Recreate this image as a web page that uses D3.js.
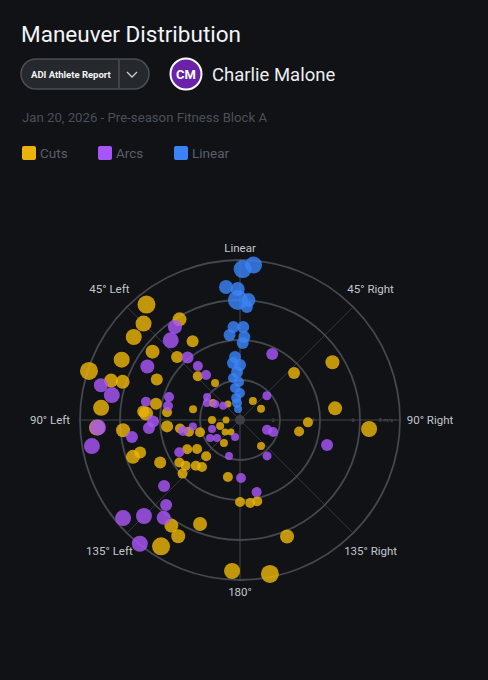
<!DOCTYPE html>
<html>
<head>
<meta charset="utf-8">
<script src="https://cdn.jsdelivr.net/npm/d3@7"></script>
<style>
  html, body { margin: 0; padding: 0; background: #101216; }
  svg { display: block; font-family: Roboto, "Noto Sans", sans-serif; }
</style>
</head>
<body>
<svg id="chart" width="488" height="680"></svg>
<script>
// Maneuver data: [direction in degrees (negative = left), speed m/s, load]
const categories = ["Cuts", "Arcs", "Linear"];
const cuts = [
	[-39, 7.43, 6], [-45, 6.82, 5], [-52, 6.74, 5], [-31, 5.87, 4], [-31, 4.6, 3],
	[-52, 5.55, 4], [-63, 6.64, 5], [-45, 4.45, 3], [-72, 7.94, 6], [-73, 6.74, 4],
	[-72, 6.17, 4], [-64, 4.63, 3], [-44, 3.04, 2], [-34, 2.23, 1], [-85, 6.97, 5],
	[-79, 4.28, 3], [-86, 4.71, 4], [-84, 3.67, 2], [-77, 2.41, 1], [-58, 1.6, 1],
	[-37, 1.0, 0.5], [34, 1.15, 1], [62, 1.19, 1], [92, 3.4, 2], [101, 3.01, 2],
	[58, 5.45, 4], [49, 3.58, 3], [83, 4.79, 4], [94, 6.47, 5], [-90, 1.4, 1],
	[-107, 1.04, 1], [-90, 0.7, 0.5], [-129, 0.96, 0.5], [-143, 0.75, 0.5], [-145, 1.4, 1],
	[141, 1.67, 1], [-95, 3.66, 3], [-95, 5.87, 4], [-93, 7.16, 5], [-109, 5.66, 4],
	[-108, 5.25, 3], [-118, 4.52, 3], [-98, 3.03, 2], [-103, 2.62, 2], [-107, 2.09, 2],
	[-119, 3.02, 2], [-124, 2.59, 2], [-137, 2.48, 2], [-125, 3.7, 2], [-130, 3.55, 2],
	[-136, 3.18, 2], [-141, 3.02, 2], [-133, 3.93, 2], [-168, 2.91, 2], [180, 4.1, 2],
	[173, 4.18, 2], [168, 4.15, 2], [-159, 5.57, 4], [-147, 6.3, 4], [-152, 6.58, 4],
	[-148, 7.45, 6], [158, 6.28, 4], [-177, 7.56, 5], [169, 7.84, 6], [-85, 4.86, 3]
];
const arcs = [
	[-35, 5.67, 4], [-41, 5.28, 5], [-40, 4.08, 3], [-60, 5.35, 4], [-38, 3.42, 2],
	[-37, 2.82, 2], [-76, 7.17, 4], [-79, 6.53, 5], [-79, 4.79, 2], [-72, 3.73, 2],
	[-79, 3.67, 2], [-55, 2.01, 1], [-63, 1.86, 1], [-57, 1.48, 1], [-50, 1.1, 1],
	[-91, 4.35, 3], [-95, 4.57, 3], [-93, 7.11, 5], [-100, 7.52, 5], [-99, 5.47, 3],
	[-98, 2.38, 1], [-101, 2.9, 2], [-108, 1.47, 1], [-128, 1.46, 1], [-164, 0.89, 1],
	[-118, 3.44, 2], [-163, 1.88, 1], [179, 2.9, 2], [167, 3.7, 2], [143, 2.25, 1.5],
	[110, 1.44, 2], [110, 1.76, 2], [106, 4.53, 3], [48, 1.81, 1.5], [26, 3.67, 3],
	[-131, 5.03, 3], [-139, 5.63, 3], [-130, 7.63, 5], [-135, 6.79, 5], [-142, 6.2, 4],
	[-141, 7.96, 5], [-121, 1.75, 1]
];
const linear = [
	[1, 7.55, 6], [5, 7.78, 5.5], [-6, 6.69, 4], [-1, 6.55, 4], [-1, 6.0, 7],
	[4, 6.01, 4], [3.5, 5.66, 3], [-4, 4.66, 3], [2, 4.65, 3], [-7, 4.28, 3],
	[3, 4.16, 3], [2, 3.85, 3], [-4.5, 3.16, 3], [-7, 2.87, 3], [0, 2.75, 3],
	[-3.5, 2.4, 3], [-9.5, 2.13, 2], [-1.5, 1.9, 2], [-9, 1.62, 2], [0, 1.35, 2],
	[-10, 1.12, 2], [-10, 0.86, 2], [-10, 0.56, 1]
];
const seriesColors = ["#eab308", "#a855f7", "#3b82f6"];
const directionAngles = [0, 45, 90, 135, 180, -135, -90, -45];
const directionLabels = ["Linear", "45° Right", "90° Right", "135° Right", "180°", "135° Left", "90° Left", "45° Left"];
const speedTicks = [2, 4, 6, 8];
const speedTickLabels = ["2", "4", "6", "8 m/s"];

const svg = d3.select("#chart");
svg.append("rect").attr("width", 488).attr("height", 680).attr("fill", "#101216");

// Header
svg.append("text")
	.attr("x", 21).attr("y", 42)
	.attr("fill", "#f3f4f6")
	.attr("font-size", 22.5)
	.text("Maneuver Distribution");

const pill = svg.append("g");
pill.append("rect")
	.attr("x", 21).attr("y", 59).attr("width", 128).attr("height", 30)
	.attr("rx", 15)
	.attr("fill", "#25282d").attr("stroke", "#4a4e55").attr("stroke-width", 1.5);
pill.append("line")
	.attr("x1", 119).attr("x2", 119).attr("y1", 60).attr("y2", 88)
	.attr("stroke", "#4a4e55").attr("stroke-width", 1.5);
pill.append("text")
	.attr("x", 31).attr("y", 78)
	.attr("fill", "#f3f4f6").attr("font-size", 9.5).attr("font-weight", 700)
	.text("ADI Athlete Report");
pill.append("path")
	.attr("d", "M127,72 L132,77 L137,72")
	.attr("fill", "none").attr("stroke", "#c9ccd1").attr("stroke-width", 1.3);

svg.append("circle")
	.attr("cx", 186).attr("cy", 74).attr("r", 15.5)
	.attr("fill", "#6b21a8").attr("stroke", "#ffffff").attr("stroke-width", 2);
svg.append("text")
	.attr("x", 186).attr("y", 79)
	.attr("text-anchor", "middle")
	.attr("fill", "#ffffff").attr("font-size", 13).attr("font-weight", 700)
	.text("CM");
svg.append("text")
	.attr("x", 212).attr("y", 81)
	.attr("fill", "#eceef1").attr("font-size", 18.5)
	.text("Charlie Malone");

svg.append("text")
	.attr("x", 22).attr("y", 122)
	.attr("fill", "#4b5058").attr("font-size", 13.2)
	.text("Jan 20, 2026 - Pre-season Fitness Block A");

// Legend
const legend = svg.append("g")
	.selectAll("g")
	.data(categories)
	.join("g")
	.attr("transform", (d, i) => `translate(${22 + i * 76},146)`);
legend.append("rect")
	.attr("width", 14).attr("height", 14).attr("rx", 2)
	.attr("fill", (d, i) => seriesColors[i]);
legend.append("text")
	.attr("x", 18).attr("y", 12)
	.attr("fill", "#5a5f68").attr("font-size", 13.5)
	.text((d) => d);

// Polar chart
const cx = 240, cy = 420, outer = 160;
const r = d3.scaleLinear().domain([0, 8]).range([0, outer]);
const size = d3.scaleLinear().domain([0, 8]).range([3, 11]);
const color = d3.scaleOrdinal().domain(categories).range(seriesColors);
const rad = (deg) => (deg * Math.PI) / 180;

const g = svg.append("g").attr("transform", `translate(${cx},${cy})`);

// spokes
g.selectAll(".spoke")
	.data(directionAngles)
	.join("line")
	.attr("class", "spoke")
	.attr("x1", 0).attr("y1", 0)
	.attr("x2", (d) => d3.pointRadial(rad(d), outer)[0])
	.attr("y2", (d) => d3.pointRadial(rad(d), outer)[1])
	.attr("stroke", (d) => (d % 90 === 0 ? "#30343a" : "#3a3f47"))
	.attr("stroke-width", (d) => (d % 90 === 0 ? 1.6 : 0.8));

// rings
g.selectAll(".ring")
	.data(speedTicks)
	.join("circle")
	.attr("class", "ring")
	.attr("r", (d) => r(d))
	.attr("fill", "none")
	.attr("stroke", "#43474e")
	.attr("stroke-width", 1.8);

// speed tick labels along right axis
g.selectAll(".tick-label")
	.data(speedTicks)
	.join("text")
	.attr("class", "tick-label")
	.attr("x", (d, i) => r(d) - (i === speedTicks.length - 1 ? 14 : 7))
	.attr("y", 2)
	.attr("text-anchor", "middle")
	.attr("fill", "#4f545c")
	.attr("font-size", 5.5)
	.text((d, i) => speedTickLabels[i]);

g.append("circle").attr("r", 5).attr("fill", "#3a3e45");

// direction labels
g.selectAll(".dir-label")
	.data(directionAngles)
	.join("text")
	.attr("class", "dir-label")
	.attr("x", (d) => d3.pointRadial(rad(d), 172 + 18 * Math.abs(Math.sin(rad(d))))[0])
	.attr("y", (d) => d3.pointRadial(rad(d), 172 + 18 * Math.abs(Math.sin(rad(d))))[1])
	.attr("dy", "0.35em")
	.attr("text-anchor", "middle")
	.attr("fill", "#c3c6cc")
	.attr("font-size", 11.5)
	.text((d, i) => directionLabels[i]);

// points
const allSeries = [cuts, arcs, linear];
allSeries.forEach((series, i) => {
	g.append("g")
		.selectAll("circle")
		.data(series)
		.join("circle")
		.attr("cx", (d) => d3.pointRadial(rad(d[0]), r(d[1]))[0])
		.attr("cy", (d) => d3.pointRadial(rad(d[0]), r(d[1]))[1])
		.attr("r", (d) => size(d[2]))
		.attr("fill", color(categories[i]))
		.attr("fill-opacity", 0.82);
});
</script>
</body>
</html>
